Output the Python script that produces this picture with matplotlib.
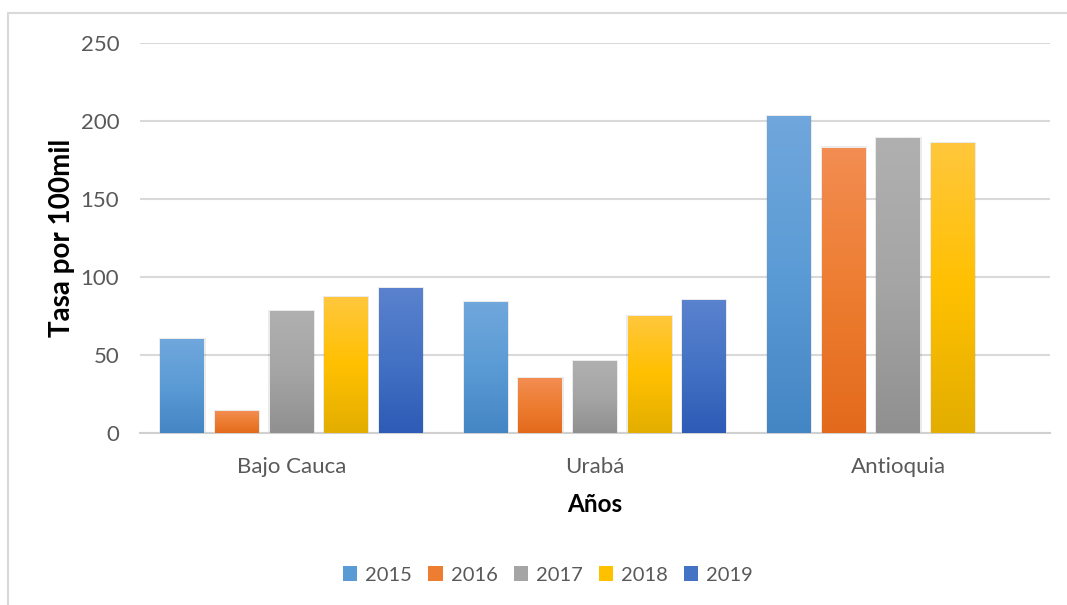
import matplotlib
matplotlib.use("Agg")
import matplotlib.pyplot as plt
import matplotlib.colors as mcolors
from matplotlib.patches import Rectangle
import numpy as np

plt.rcParams['font.family'] = ['Lato', 'DejaVu Sans']

# datos
regiones = ["Bajo Cauca", "Urabá", "Antioquia"]
anios = ["2015", "2016", "2017", "2018", "2019"]
tasa_2015 = [60, 84, 203]
tasa_2016 = [14, 35, 183]
tasa_2017 = [78, 46, 189]
tasa_2018 = [87, 75, 186]
tasa_2019 = [93, 85, None]
series = [tasa_2015, tasa_2016, tasa_2017, tasa_2018, tasa_2019]

# colores (claro arriba, base, oscuro abajo)
colores = [
    ("#70A7DC", "#5B9BD5", "#4485C4"),
    ("#F38D52", "#ED7D31", "#E36A1C"),
    ("#B0B0B0", "#A5A5A5", "#909090"),
    ("#FFC73D", "#FFC000", "#E3AE00"),
    ("#5A82CE", "#4472C4", "#2D5BB6"),
]

fig = plt.figure(figsize=(10.67, 6.05), dpi=100)
ax = fig.add_axes([140 / 1067, 1 - 433 / 605, 910 / 1067, 390 / 605])

# marco del grafico
fig.patches.append(Rectangle((8 / 1067, -0.1), 1.2, 1 - 13 / 605 + 0.1,
                             transform=fig.transFigure, fill=False,
                             edgecolor="#D9D9D9", linewidth=1.5))

x = np.arange(len(regiones))
ancho = 0.145
paso = 0.18

for i, (serie, col) in enumerate(zip(series, colores)):
    cmap = mcolors.LinearSegmentedColormap.from_list("g" + str(i), [col[2], col[1], col[0]])
    for j, v in enumerate(serie):
        if v is None:
            continue
        xc = x[j] + (i - 2) * paso
        # sombra
        sombra = Rectangle((xc - ancho / 2 - 0.004, 0), ancho + 0.008, v + 0.8,
                           facecolor="#000000", alpha=0.08, edgecolor="none", zorder=2)
        ax.add_patch(sombra)
        b = ax.bar(xc, v, ancho, color=col[1], zorder=3, linewidth=0)[0]
        grad = np.linspace(0, 1, 256).reshape(-1, 1)
        im = ax.imshow(grad, cmap=cmap, origin="lower", aspect="auto",
                       extent=[xc - ancho / 2, xc + ancho / 2, 0, v], zorder=4)
        im.set_clip_path(b)

ax.set_xlim(-0.5, 2.5)
ax.set_ylim(0, 250)
ax.set_yticks([0, 50, 100, 150, 200, 250])
ax.set_xticks(x)
ax.set_xticklabels(regiones)
ax.yaxis.grid(True, color="#D9D9D9", linewidth=1.5, zorder=0)
ax.set_axisbelow(True)
for s in ["top", "right", "left"]:
    ax.spines[s].set_visible(False)
ax.spines["bottom"].set_color("#D0D0D0")
ax.spines["bottom"].set_linewidth(1.5)
ax.tick_params(axis="both", length=0, labelsize=16, colors="#595959")
ax.tick_params(axis="y", pad=15)
ax.tick_params(axis="x", pad=17)

ax.set_xlabel("Años", fontsize=17.5, fontweight="bold", labelpad=12)
ax.set_ylabel("Tasa por 100mil", fontsize=20, fontweight="bold", labelpad=4)

handles = [Rectangle((0, 0), 1, 1, facecolor=c[1]) for c in colores]
fig.legend(handles, anios, loc="center", bbox_to_anchor=(548 / 1067, 1 - 575 / 605),
           ncol=5, frameon=False, fontsize=14.5, labelcolor="#595959",
           handlelength=0.7, handleheight=0.7, handletextpad=0.4, columnspacing=0.8)

fig.savefig("out.png", dpi=100)
